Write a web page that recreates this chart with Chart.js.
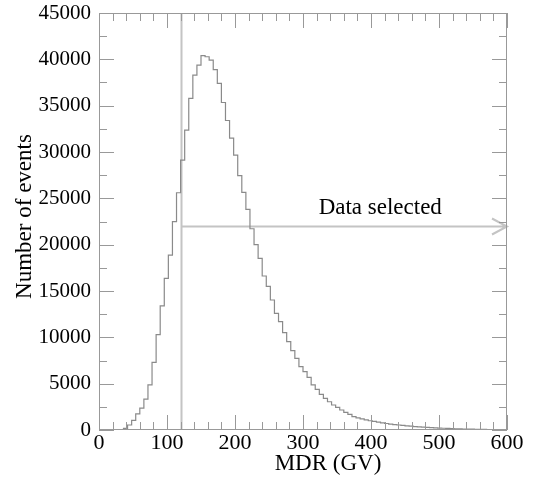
<!DOCTYPE html>
<html>
<head>
<meta charset="utf-8">
<title>MDR distribution</title>
<script src="https://cdn.jsdelivr.net/npm/chart.js@4.4.0/dist/chart.umd.min.js"></script>
<style>
  html, body { margin: 0; padding: 0; background: #fff; }
  #mdrChart { display: block; }
</style>
</head>
<body>
<canvas id="mdrChart" width="534" height="481"></canvas>
<script>
// histogram: 100 bins of 6 GV from 0 to 600
const binWidth = 6;
const binCounts = [
    0, 0, 0, 0, 0, 20, 180, 540, 1040, 1750,
    2350, 3340, 4860, 7300, 10300, 13400, 16370, 18880, 22480, 25600,
    29130, 32370, 35790, 38300, 39380, 40390, 40280, 39920, 38880, 37400,
    35340, 33400, 31500, 29670, 27450, 25650, 23800, 21720, 20000, 18530,
    16620, 15500, 14030, 12590, 11690, 10500, 9530, 8560, 7740, 6830,
    6290, 5680, 4860, 4390, 3850, 3420, 3050, 2700, 2450, 2160,
    1910, 1690, 1440, 1300, 1200, 1100, 1000, 920, 840, 770,
    700, 640, 590, 540, 490, 450, 410, 375, 340, 310,
    280, 255, 230, 210, 190, 170, 152, 136, 122, 110,
    98, 88, 79, 70, 62, 55, 49, 43, 38, 34
];
const xTicks = [0, 100, 200, 300, 400, 500, 600];
const yTicks = [0, 5000, 10000, 15000, 20000, 25000, 30000, 35000, 40000, 45000];
const xMinorStep = 20;
const yMinorStep = 2500;

const cutValue = 120;      // GV, selection threshold
const arrowLevel = 22000;  // height of the "selected" arrow
const arrowLabel = 'Data selected';
const labelAt = { x: 323, y: 23300 };

const xTitle = 'MDR (GV)';
const yTitle = 'Number of events';

const serif = '"Liberation Serif", "DejaVu Serif", serif';

const histPoints = binCounts.map((n, i) => ({ x: i * binWidth, y: n }));
histPoints.push({ x: binCounts.length * binWidth, y: binCounts[binCounts.length - 1] });

const markings = {
    id: 'markings',
    beforeDatasetsDraw(chart) {
        const { ctx, chartArea: a, scales: { x, y } } = chart;
        const cx = Math.round(x.getPixelForValue(cutValue)) + 0.5;
        const ay = Math.round(y.getPixelForValue(arrowLevel)) + 0.5;
        const ax = x.getPixelForValue(600);
        ctx.save();
        ctx.strokeStyle = '#c4c4c4';
        ctx.lineWidth = 2;
        ctx.beginPath();
        ctx.moveTo(cx, a.bottom);
        ctx.lineTo(cx, a.top);
        ctx.moveTo(cx, ay);
        ctx.lineTo(ax, ay);
        // open arrow head
        ctx.moveTo(ax - 15, ay - 8);
        ctx.lineTo(ax, ay);
        ctx.lineTo(ax - 15, ay + 8);
        ctx.stroke();
        ctx.restore();
    },
    afterDatasetsDraw(chart) {
        const { ctx, chartArea: a, scales: { x, y } } = chart;
        ctx.save();
        ctx.strokeStyle = '#999';
        ctx.lineWidth = 1;
        ctx.strokeRect(a.left + 0.5, a.top + 0.5, a.right - a.left - 1, a.bottom - a.top - 1);

        // ticks point inwards, on all four sides
        ctx.beginPath();
        for (let v = 0; v <= 600; v += xMinorStep) {
            const px = Math.round(x.getPixelForValue(v)) + 0.5;
            const len = v % 100 === 0 ? 15 : 8;
            ctx.moveTo(px, a.bottom); ctx.lineTo(px, a.bottom - len);
            ctx.moveTo(px, a.top); ctx.lineTo(px, a.top + len);
        }
        for (let v = 0; v <= 45000; v += yMinorStep) {
            const py = Math.round(y.getPixelForValue(v)) + 0.5;
            const len = v % 5000 === 0 ? 15 : 8;
            ctx.moveTo(a.left, py); ctx.lineTo(a.left + len, py);
            ctx.moveTo(a.right, py); ctx.lineTo(a.right - len, py);
        }
        ctx.stroke();

        ctx.fillStyle = '#000';
        ctx.font = '23px ' + serif;
        ctx.textAlign = 'left';
        ctx.textBaseline = 'alphabetic';
        ctx.fillText(arrowLabel, x.getPixelForValue(labelAt.x), y.getPixelForValue(labelAt.y));

        ctx.textAlign = 'center';
        ctx.fillText(xTitle, 328, 470);

        ctx.translate(31, (a.top + a.bottom) / 2 - 5);
        ctx.rotate(-Math.PI / 2);
        ctx.fillText(yTitle, 0, 0);
        ctx.restore();
    }
};

const ctx = document.getElementById('mdrChart').getContext('2d');
new Chart(ctx, {
    type: 'line',
    data: {
        datasets: [{
            data: histPoints,
            stepped: 'before',
            borderColor: '#8a8a8a',
            borderWidth: 1.2,
            pointRadius: 0,
            fill: false
        }]
    },
    options: {
        responsive: false,
        animation: false,
        devicePixelRatio: 1,
        layout: { autoPadding: false, padding: { left: 0, right: 27, top: 13, bottom: 0 } },
        plugins: {
            legend: { display: false },
            tooltip: { enabled: false }
        },
        scales: {
            x: {
                type: 'linear',
                min: 0,
                max: 600,
                afterBuildTicks: s => { s.ticks = xTicks.map(v => ({ value: v })); },
                afterFit: s => { s.height = 51; s.paddingLeft = 0; s.paddingRight = 0; },
                grid: { display: false, drawTicks: false, tickLength: 0 },
                border: { display: false },
                ticks: {
                    padding: 0,
                    color: '#000',
                    font: { family: serif, size: 22 },
                    maxRotation: 0,
                    callback: v => String(v)
                }
            },
            y: {
                min: 0,
                max: 45000,
                afterBuildTicks: s => { s.ticks = yTicks.map(v => ({ value: v })); },
                afterFit: s => { s.width = 99; s.paddingTop = 0; s.paddingBottom = 0; },
                grid: { display: false, drawTicks: false, tickLength: 0 },
                border: { display: false },
                ticks: {
                    padding: 8,
                    color: '#000',
                    font: { family: serif, size: 21 },
                    callback: v => String(v)
                }
            }
        }
    },
    plugins: [markings]
});
</script>
</body>
</html>
